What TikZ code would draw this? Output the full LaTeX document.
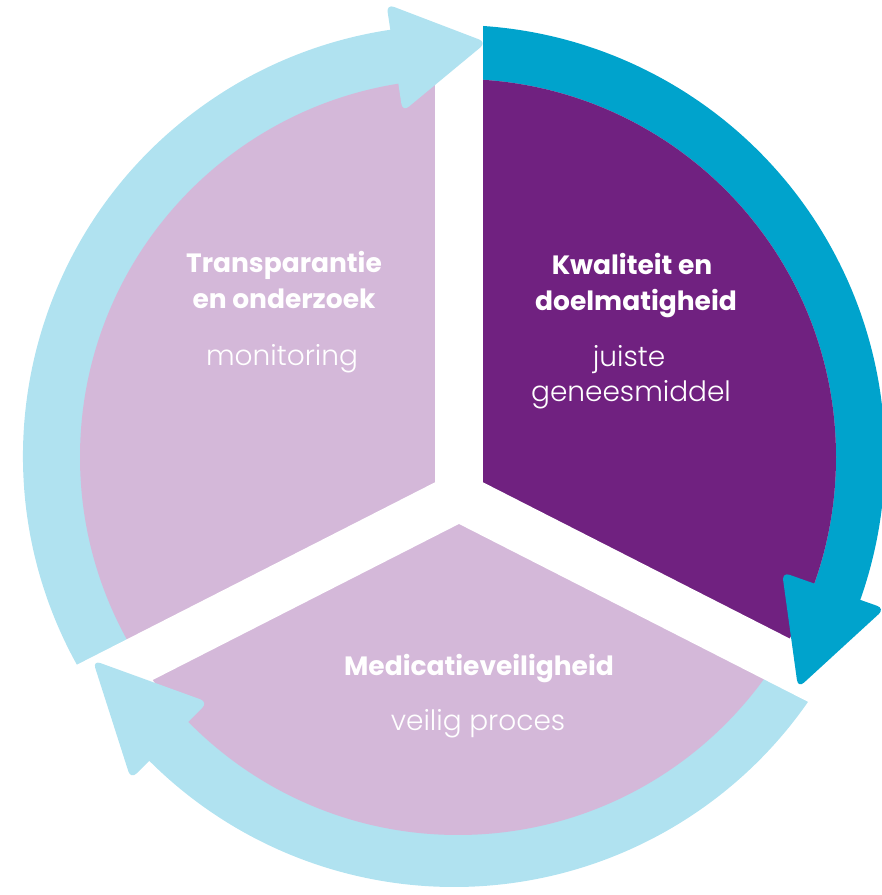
\documentclass[tikz,border=0pt]{standalone}
\usepackage{fontspec}
\setmainfont{Poppins}
\newfontfamily\headfont{Poppins Bold}
\newfontfamily\subfont{Poppins Light}
\usetikzlibrary{calc}
\definecolor{lilac}{HTML}{D4B8D9}
\definecolor{plum}{HTML}{702180}
\definecolor{skylight}{HTML}{B0E2F0}
\definecolor{skydark}{HTML}{00A3CC}

\begin{document}
\begin{tikzpicture}[x=1pt,y=1pt,
    head/.style={text=white,font=\headfont\fontsize{26.5}{30}\selectfont,anchor=base,inner sep=0pt},
    sub/.style={text=white,font=\subfont\fontsize{28}{32}\selectfont,anchor=base,inner sep=0pt},
    gapline/.style={white,line width=48pt},
    ringband/.style={line width=60pt}]
  \useasboundingbox (0,0) rectangle (882,895);
  \coordinate (O) at (454,439); % ring centre
  \coordinate (C) at (458,438); % pie centre
  \coordinate (J) at (459,398); % gaps meet here

  % ring bands, clockwise
  \draw[ringband,skylight] ($(O)+(213:401)$) arc[start angle=213,end angle=96.5,radius=401];
  \draw[ringband,skydark] ($(O)+(89:401)$) arc[start angle=89,end angle=-21.5,radius=401];
  \draw[ringband,skylight] ($(O)+(-31:401)$) arc[start angle=-31,end angle=-137,radius=401];

  % pie
  \fill[lilac] (C) circle[radius=378];
  \begin{scope}
    \clip (C) circle[radius=378];
    \fill[plum] (J) -- ($(J)+(333:800)$) -- ($(J)+(30:800)$) -- ($(J)+(90:800)$) -- cycle;
  \end{scope}

  % white gaps
  \foreach \a in {90,207,333}
    \draw[gapline] (J) -- ++(\a:560);

  % arrow heads
  \foreach \b/\t/\c in {98.5/85.5/skylight, 340.5/326/skydark, 225/209.5/skylight}
    \fill[\c,rounded corners=8pt] ($(O)+(\b:348)$) -- ($(O)+(\b:457)$) -- ($(O)+(\t:415)$) -- cycle;

  % labels
  \node[head] (trans) at (284,622) {Transparantie};
  \node[head] (onderzoek) at (284,586) {en onderzoek};
  \node[sub] (monitoring) at (282,529) {monitoring};

  \node[head] (kwaliteit) at (632,620) {Kwaliteit en};
  \node[head] (doelmatig) at (636,584) {doelmatigheid};
  \node[sub] (juiste) at (629,528) {juiste};
  \node[sub] (middel) at (631,493) {geneesmiddel};

  \node[head] (medicatie) at (479,219) {Medicatieveiligheid};
  \node[sub] (proces) at (478,164) {veilig proces};
\end{tikzpicture}
\end{document}
